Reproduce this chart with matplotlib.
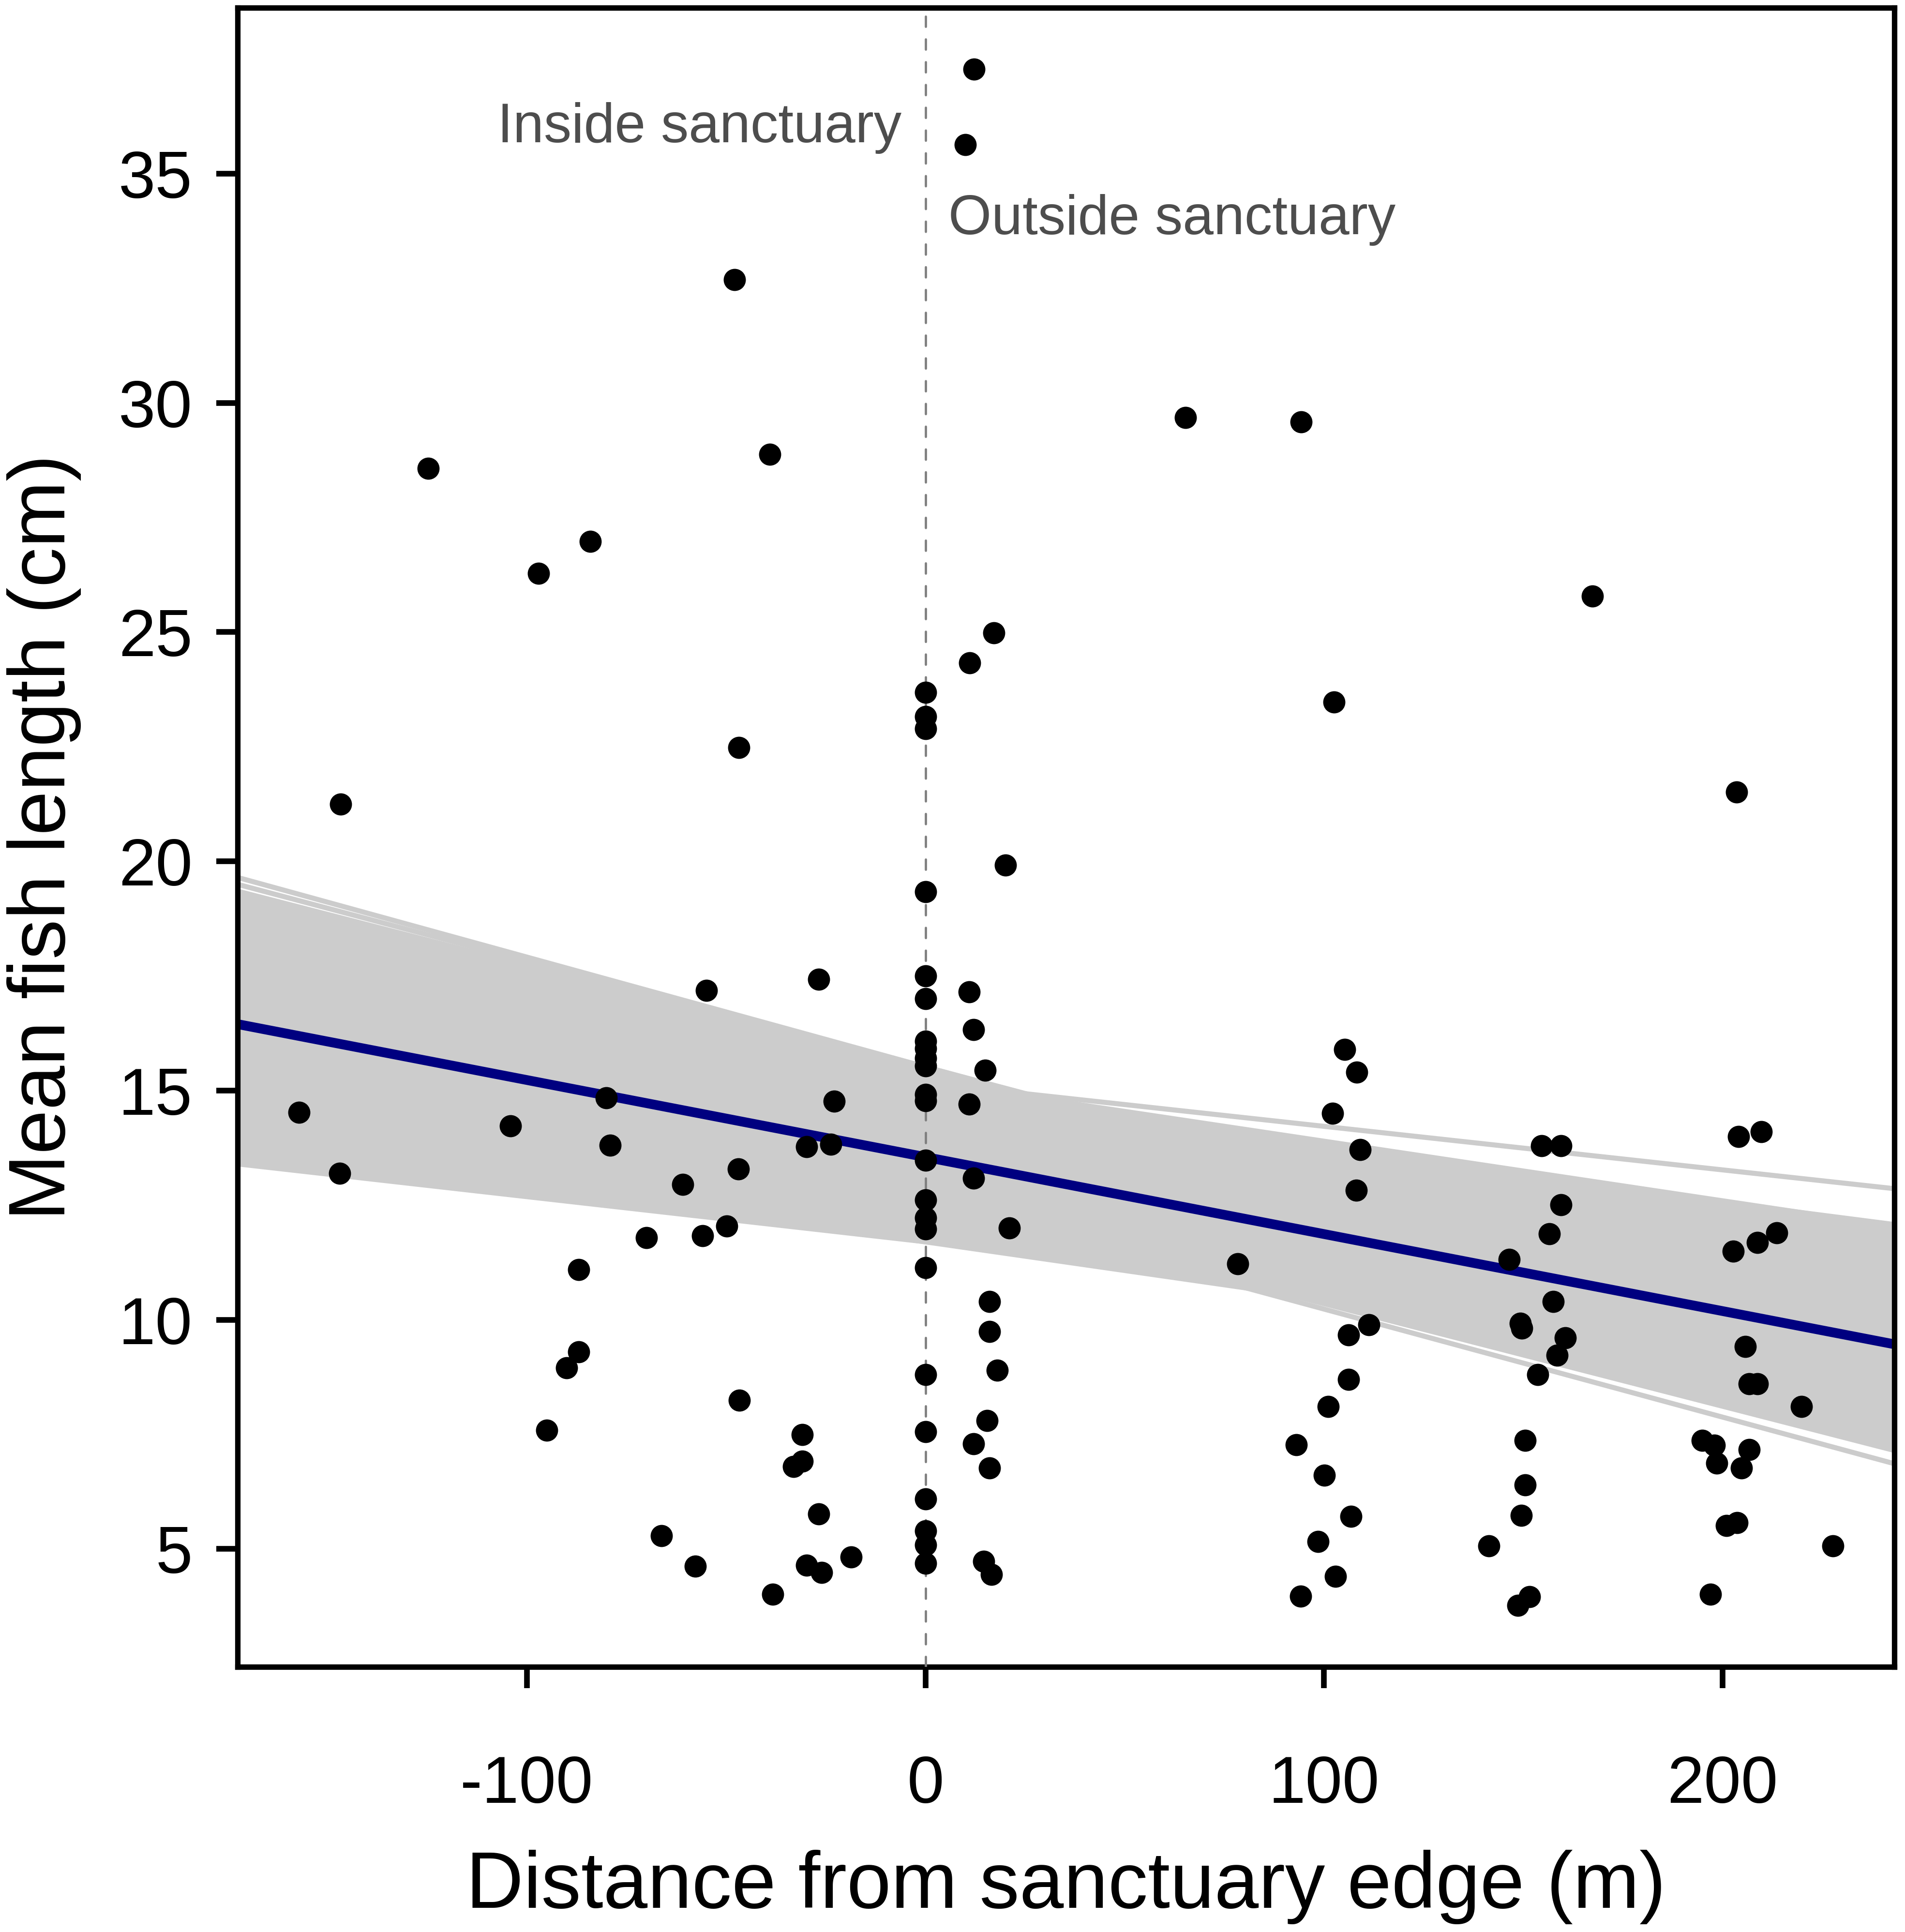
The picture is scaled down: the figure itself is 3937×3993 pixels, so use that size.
import numpy as np
import matplotlib
matplotlib.use("Agg")
import matplotlib.pyplot as plt

plt.rcParams['font.family'] = ['Liberation Sans', 'DejaVu Sans']
plt.rcParams['axes.unicode_minus'] = False

# Sites inside the sanctuary (negative distance)
inside_x = [-157.2, -147.0, -146.7, -124.8, -104.1, -97.1, -95.0, -90.0, -87.0, -87.0,
            -84.1, -80.1, -79.1, -70.0, -66.2, -60.9, -57.7, -55.9, -54.9, -49.9,
            -47.9, -46.8, -46.9, -46.7, -39.0, -38.3, -33.1, -30.9, -30.9, -29.8,
            -29.8, -26.8, -26.8, -26.0, -23.8, -22.9, -18.6]
inside_y = [14.52, 13.20, 21.25, 28.57, 14.23, 26.28, 7.59, 8.95, 11.09, 9.30,
            26.98, 14.84, 13.81, 11.79, 5.29, 12.95, 4.62, 11.83, 17.18, 12.04,
            32.69, 22.48, 13.29, 8.24, 28.88, 4.01, 6.80, 7.50, 6.92, 13.78,
            4.65, 17.43, 5.76, 4.49, 13.83, 14.77, 4.83]

# Sites right on the sanctuary edge (distance 0)
edge_y = [23.69, 23.16, 22.89, 19.34, 17.50, 17.00, 16.08, 15.92, 15.71, 15.54,
          14.91, 14.78, 13.48, 12.61, 12.22, 11.98, 11.14, 8.80, 7.56, 6.09,
          5.40, 5.09, 4.69]

# Sites outside the sanctuary
outside_x = [12.2, 10.0, 17.2, 11.1, 20.1, 11.0, 12.1, 15.0, 11.0, 12.1,
             21.0, 16.1, 16.1, 18.0, 15.5, 12.1, 16.1, 14.6, 16.5,
             65.2, 78.3,
             94.2, 102.5, 105.2, 108.2, 102.1, 109.1, 108.1, 111.3, 106.1, 106.1,
             101.0, 93.0, 100.1, 106.7, 98.5, 102.9, 94.1,
             167.4, 154.6, 159.5, 159.5, 156.5, 146.5, 157.5, 149.3, 149.6, 160.5,
             158.5, 153.6, 150.5, 150.5, 149.5, 141.3, 151.5, 148.7,
             203.5, 204.0, 209.7, 213.6, 208.7, 202.7, 205.7, 206.7, 208.7, 219.8,
             194.9, 197.9, 206.7, 198.6, 204.7, 201.0, 203.7, 227.7, 197.0]
outside_y = [37.28, 35.63, 24.98, 24.33, 19.92, 17.15, 16.33, 15.44, 14.70, 13.09,
             12.00, 10.40, 9.74, 8.90, 7.80, 7.30, 6.77, 4.73, 4.45,
             29.68, 11.22,
             29.59, 23.48, 15.90, 15.40, 14.50, 13.71, 12.83, 9.89, 9.67, 8.70,
             8.11, 7.27, 6.61, 5.71, 5.16, 4.40, 3.97,
             25.79, 13.80, 13.80, 12.51, 11.88, 11.32, 10.40, 9.92, 9.82, 9.61,
             9.23, 8.80, 7.37, 6.40, 5.73, 5.07, 3.96, 3.77,
             21.51, 14.00, 14.10, 11.90, 11.69, 11.50, 9.42, 8.60, 8.60, 8.11,
             7.37, 7.26, 7.17, 6.87, 6.77, 5.51, 5.57, 5.07, 4.01]

# Fitted line
fit_intercept = 13.55
fit_slope = -0.0168

# Sampled regression lines (intercept, slope) forming the grey band
core_intercepts = [15.484, 14.799, 12.044, 12.528, 15.196, 11.702, 12.588, 11.700]
core_slopes = [-0.02240, -0.01119, -0.01046, -0.02139, -0.01300, -0.00984, -0.02237, -0.01250]
outer_intercepts = [15.518, 15.514, 15.170, 11.856, 12.591]
outer_slopes = [-0.02394, -0.02309, -0.00950, -0.01010, -0.02357]

x_all = np.concatenate([inside_x, np.zeros(len(edge_y)), outside_x])
y_all = np.concatenate([inside_y, edge_y, outside_y])

# R-style 4% axis padding
xr = x_all.max() - x_all.min()
yr = y_all.max() - y_all.min()
xlim = (x_all.min() - 0.04 * xr, x_all.max() + 0.04 * xr)
ylim = (y_all.min() - 0.04 * yr, y_all.max() + 0.04 * yr)

fig = plt.figure(figsize=(3937 / 300, 3993 / 300), dpi=300)
ax = fig.add_axes([0.1247, 0.13724, 0.99441 - 0.1247, 0.996 - 0.13724])

band_col = '#CCCCCC'
xs = np.linspace(xlim[0], xlim[1], 400)
core = np.array([a + b * xs for a, b in zip(core_intercepts, core_slopes)])
ax.fill_between(xs, core.min(axis=0), core.max(axis=0), color=band_col, lw=0, zorder=1)
for a, b in zip(core_intercepts + outer_intercepts, core_slopes + outer_slopes):
    ax.plot(xs, a + b * xs, color=band_col, lw=2.5, zorder=1.5, solid_capstyle='butt')

ax.plot(xs, fit_intercept + fit_slope * xs, color='#000080', lw=4.8, zorder=2,
        solid_capstyle='butt')

ax.axvline(0, color='#7F7F7F', lw=1.13, linestyle=(0, (4.5, 5.5)),
           dash_capstyle='round', zorder=3)

ax.plot(x_all, y_all, 'o', color='black', ms=11, mew=0, zorder=4, clip_on=False)

ax.text(-6, 35.69, 'Inside sanctuary', ha='right', va='baseline',
        fontsize=27.5, color='#4D4D4D')
ax.text(5.7, 33.68, 'Outside sanctuary', ha='left', va='baseline',
        fontsize=27.5, color='#4D4D4D')

ax.set_xlim(xlim)
ax.set_ylim(ylim)
ax.set_xticks([-100, 0, 100, 200])
ax.set_yticks([5, 10, 15, 20, 25, 30, 35])
for s in ax.spines.values():
    s.set_linewidth(2.7)
ax.tick_params(axis='both', direction='out', length=10.6, width=2.8, labelsize=33)
ax.tick_params(axis='x', pad=32.9)
ax.tick_params(axis='y', pad=11.8)

ax.set_xlabel('Distance from sanctuary edge (m)', fontsize=39.5, va='baseline')
ax.xaxis.set_label_coords(0.5, -0.14523)
ax.set_ylabel('Mean fish length (cm)', fontsize=39.5, va='baseline',
              ha='center', rotation_mode='anchor')
ax.yaxis.set_label_coords(-0.10426, 0.5)

fig.savefig('out.png', dpi=300)
